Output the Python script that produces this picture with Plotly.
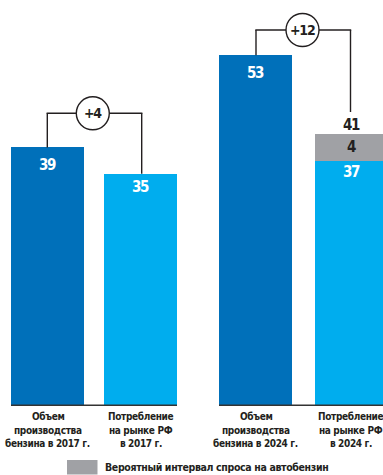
import plotly.graph_objects as go

# ---------------- data ----------------
categories = [
    ["Объем", "производства", "бензина в 2017 г."],
    ["Потребление", "на рынке РФ", "в 2017 г."],
    ["Объем", "производства", "бензина в 2024 г."],
    ["Потребление", "на рынке РФ", "в 2024 г."],
]
base_values = [39, 35, 53, 37]          # main bar values
interval_values = [0, 0, 0, 4]          # probable demand interval (grey)
totals = [39, 35, 53, 41]
diff_labels = ["+4", "+12"]
legend_label = "Вероятный интервал спроса на автобензин"

# ---------------- layout constants ----------------
W, H = 383, 475
BASE_PX = 404.5          # pixel row of value 0
SCALE = 6.59             # pixels per unit
Y_MAX = BASE_PX / SCALE
Y_MIN = -(H - BASE_PX) / SCALE

def v(py):
    """pixel row -> data value"""
    return (BASE_PX - py) / SCALE

x_pos = [47.5, 140.5, 255.5, 351.5]
bar_w = 73
dark = "#0070BA"
light = "#00ADEE"
grey = "#A0A1A5"
ink = "#231F20"
colors = [dark, light, dark, light]
label_gap = [17.5, 13, 17.5, 11.5]
FONT = "DejaVu Sans"

def cond(s, ls=-0.5):
    return f"<span style='font-stretch:condensed;letter-spacing:{ls}px'><b>{s}</b></span>"

fig = go.Figure()
fig.add_trace(go.Bar(x=x_pos, y=base_values, width=bar_w, marker=dict(color=colors, line=dict(width=0)),
                     showlegend=False, hoverinfo="skip"))
fig.add_trace(go.Bar(x=x_pos, y=interval_values, width=bar_w, marker=dict(color=grey, line=dict(width=0)),
                     name=legend_label, showlegend=False, hoverinfo="skip"))

shapes = []
ann = []

# baseline
for x0, x1 in [(11, 177), (219, 390)]:
    shapes.append(dict(type="line", xref="x", yref="y", x0=x0, x1=x1, y0=v(405.2), y1=v(405.2),
                       line=dict(color="#333333", width=1.6)))

VAL_SIZE = 15
VAL_LS = -1.3
# value labels inside bars
for i in range(4):
    ann.append(dict(x=x_pos[i], y=base_values[i], yshift=-label_gap[i],
                    text=cond(base_values[i], VAL_LS), showarrow=False, yanchor="middle",
                    font=dict(family=FONT, size=VAL_SIZE, color="white")))
# grey segment label
i = 3
ann.append(dict(x=x_pos[i], y=base_values[i] + interval_values[i] / 2,
                text=cond(interval_values[i], VAL_LS), showarrow=False, yanchor="middle",
                font=dict(family=FONT, size=VAL_SIZE, color=ink)))
# total label
ann.append(dict(x=x_pos[i], y=totals[i], yshift=9, text=cond(totals[i], VAL_LS), showarrow=False,
                yanchor="middle", font=dict(family=FONT, size=VAL_SIZE, color=ink)))

# brackets
brackets = [
    dict(xl=47.3, xr=141.7, top=v(113.3), lend=totals[0], rend=totals[1], cx=92.8),
    dict(xl=256, xr=350.5, top=v(30), lend=totals[2], rend=v(112), cx=302.5),
]
for b, lab in zip(brackets, diff_labels):
    xl, xr = b["xl"], b["xr"]
    shapes.append(dict(type="line", xref="x", yref="y", x0=xl, x1=xl, y0=b["lend"], y1=b["top"],
                       line=dict(color=ink, width=1.4)))
    shapes.append(dict(type="line", xref="x", yref="y", x0=xr, x1=xr, y0=b["rend"], y1=b["top"],
                       line=dict(color=ink, width=1.4)))
    shapes.append(dict(type="line", xref="x", yref="y", x0=xl - 0.7, x1=xr + 0.7, y0=b["top"], y1=b["top"],
                       line=dict(color=ink, width=1.4)))
    shapes.append(dict(type="circle", xref="x", yref="y", xsizemode="pixel", ysizemode="pixel",
                       xanchor=b["cx"], yanchor=b["top"], x0=-16.5, x1=16.5, y0=-16.5, y1=16.5,
                       fillcolor="white", line=dict(color=ink, width=1.4)))
    ann.append(dict(x=b["cx"], y=b["top"], text=cond(lab, -1.2), showarrow=False, yanchor="middle",
                    font=dict(family=FONT, size=14, color=ink)))

# category labels (one annotation per line for precise spacing)
line_rows = [416.7, 430.2, 443.8]
for i in range(4):
    for j, line in enumerate(categories[i]):
        ann.append(dict(x=x_pos[i] - (1 if i == 3 else 0), y=v(line_rows[j]), text=cond(line, -0.35),
                        showarrow=False, yanchor="middle", xanchor="center",
                        font=dict(family=FONT, size=10, color=ink)))

# legend
shapes.append(dict(type="rect", xref="x", yref="y", x0=67, x1=97.5, y0=v(460), y1=v(474.5),
                   fillcolor=grey, line=dict(width=0)))
ann.append(dict(x=103, y=v(467.3), text=cond(legend_label, -0.35), showarrow=False, xanchor="left",
                yanchor="middle", font=dict(family=FONT, size=10.5, color=ink)))

fig.update_layout(
    width=W, height=H, margin=dict(l=0, r=0, t=0, b=0),
    paper_bgcolor="white", plot_bgcolor="white", barmode="stack", bargap=0,
    xaxis=dict(range=[0, W], visible=False, fixedrange=True),
    yaxis=dict(range=[Y_MIN, Y_MAX], visible=False, fixedrange=True),
    shapes=shapes, annotations=ann, showlegend=False,
)
fig.write_html("out.html", config={"displayModeBar": False})
